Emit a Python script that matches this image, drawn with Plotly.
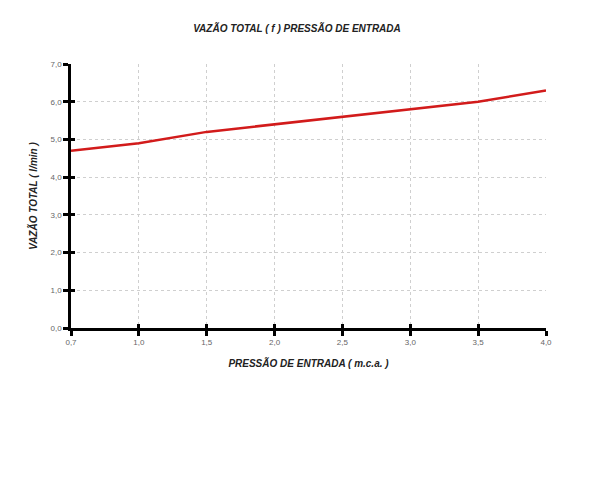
import plotly.graph_objects as go

pressure_labels = ["0,7", "1,0", "1,5", "2,0", "2,5", "3,0", "3,5", "4,0"]
flow_values = [4.7, 4.9, 5.2, 5.4, 5.6, 5.8, 6.0, 6.3]
y_ticks = [0, 1, 2, 3, 4, 5, 6, 7]

fig = go.Figure()
fig.add_trace(go.Scatter(
    x=pressure_labels, y=flow_values, mode="lines",
    line=dict(color="#d21b1b", width=2.5), showlegend=False, hoverinfo="skip"))
# empty trace to anchor the overlay axes that draw the inner half of the ticks
fig.add_trace(go.Scatter(x=[], y=[], xaxis="x2", yaxis="y2", showlegend=False, hoverinfo="skip"))

axis_common = dict(
    showline=True, linecolor="black", linewidth=2.5,
    ticks="outside", ticklen=5, tickwidth=2.5, tickcolor="black",
    showgrid=True, gridcolor="#cfcfcf", griddash="3px,3px", gridwidth=1,
    zeroline=False, automargin=False,
    tickfont=dict(family="Liberation Sans, Arial", size=8, color="#666666"),
)
inner_common = dict(
    showline=False, ticks="inside", ticklen=4, tickwidth=2.5, tickcolor="black",
    showgrid=False, zeroline=False, showticklabels=False, automargin=False,
)

title_font = dict(family="Liberation Sans, Arial", size=10, color="#222222")

fig.update_layout(
    width=600, height=497,
    margin=dict(l=63, r=62, t=56, b=177, autoexpand=False),
    paper_bgcolor="white", plot_bgcolor="white",
    separators=",.",
    title=dict(text="<b><i>VAZÃO TOTAL ( f ) PRESSÃO DE ENTRADA</i></b>",
               x=289/600, xanchor="center", xref="container", yref="container",
               y=1 - 20/497, yanchor="middle", font=title_font),
    xaxis=dict(type="category", categoryorder="array", categoryarray=pressure_labels,
               range=[0, len(pressure_labels) - 1],
               title=dict(text="<b><i>PRESSÃO DE ENTRADA ( m.c.a. )</i></b>", standoff=14,
                          font=title_font),
               **axis_common),
    yaxis=dict(range=[0, 7], tickvals=y_ticks, tickformat=".1f",
               title=dict(text="<b><i>VAZÃO TOTAL ( l/min )</i></b>", standoff=12,
                          font=title_font),
               **axis_common),
    xaxis2=dict(type="category", categoryorder="array", categoryarray=pressure_labels,
                range=[0, len(pressure_labels) - 1], overlaying="x", side="bottom",
                anchor="y2", **inner_common),
    yaxis2=dict(range=[0, 7], tickvals=y_ticks, overlaying="y", side="left",
                anchor="x2", **inner_common),
)

fig.write_html("out.html")
